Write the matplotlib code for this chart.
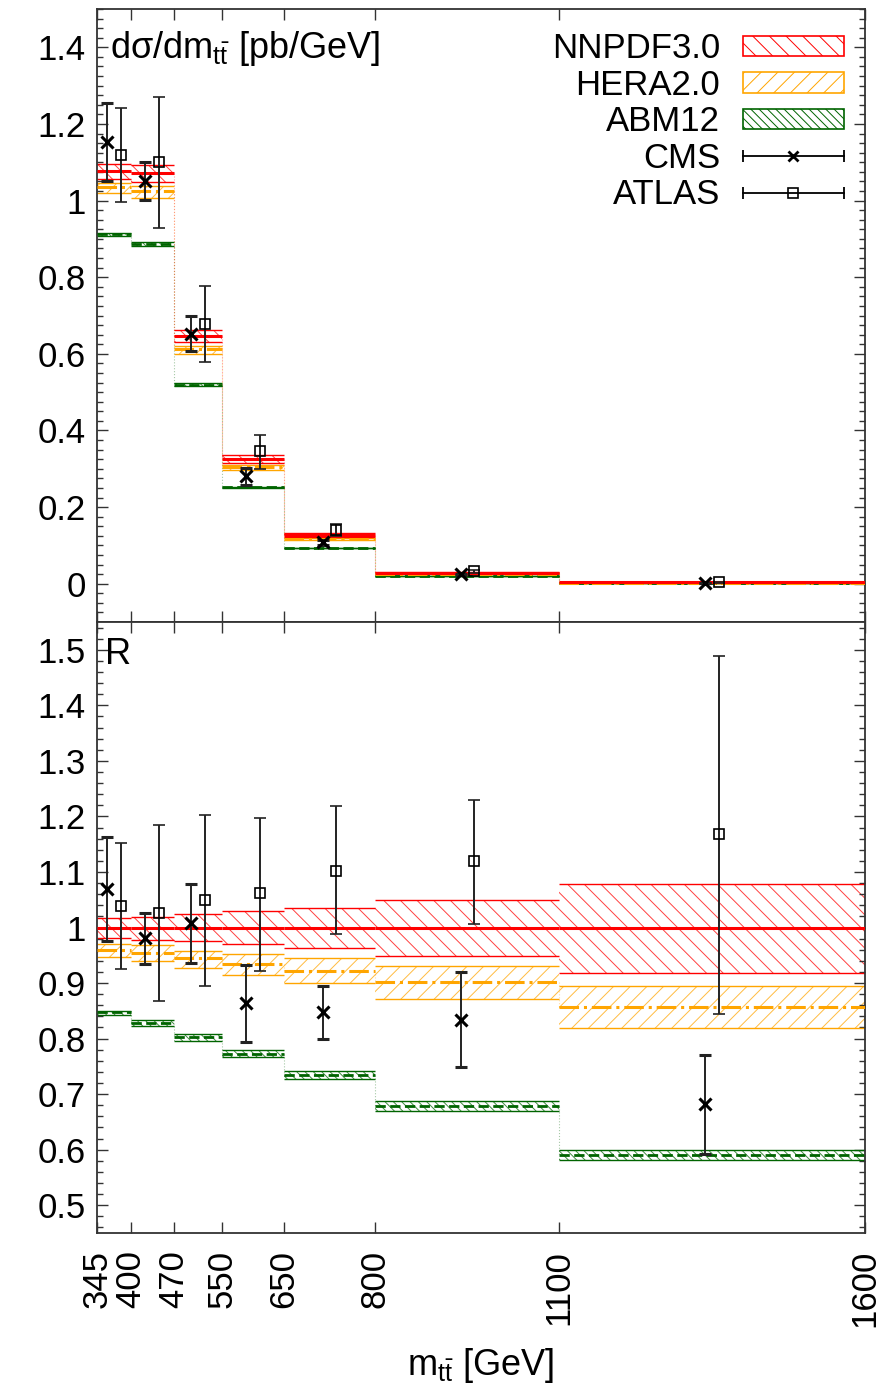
import numpy as np
import matplotlib.pyplot as plt
from matplotlib.lines import Line2D
from matplotlib.patches import Patch
from matplotlib.legend_handler import HandlerBase
from matplotlib.ticker import MultipleLocator, FuncFormatter

plt.rcParams['font.family'] = ['Liberation Sans', 'DejaVu Sans']
plt.rcParams['mathtext.fontset'] = 'custom'
plt.rcParams['mathtext.rm'] = 'Liberation Sans'
plt.rcParams['mathtext.it'] = 'Liberation Sans:italic'
plt.rcParams['hatch.linewidth'] = 0.7

# m_tt bin edges [GeV]
edges = [345, 400, 470, 550, 650, 800, 1100, 1600]
edge_labels = ['345', '400', '470', '550', '650', '800', '1100', '1600']

# NNPDF3.0 central prediction, dsigma/dm_tt [pb/GeV]
nnpdf_abs = [1.078, 1.072, 0.647, 0.325, 0.127, 0.029, 0.0035]

# ratios to the NNPDF3.0 central value
nnpdf_c = [1.0, 1.0, 1.0, 1.0, 1.0, 1.0, 1.0]
nnpdf_lo = [0.981, 0.977, 0.976, 0.970, 0.964, 0.948, 0.918]
nnpdf_hi = [1.017, 1.019, 1.024, 1.030, 1.036, 1.049, 1.078]

hera_c = [0.960, 0.955, 0.945, 0.934, 0.921, 0.901, 0.857]
hera_lo = [0.947, 0.940, 0.928, 0.915, 0.900, 0.872, 0.819]
hera_hi = [0.971, 0.968, 0.958, 0.952, 0.945, 0.930, 0.894]

abm_c = [0.847, 0.828, 0.802, 0.773, 0.734, 0.679, 0.590]
abm_lo = [0.843, 0.823, 0.796, 0.766, 0.727, 0.670, 0.581]
abm_hi = [0.850, 0.833, 0.808, 0.780, 0.741, 0.687, 0.599]

cms_r = [1.069, 0.981, 1.009, 0.864, 0.848, 0.834, 0.682]
cms_up = [1.163, 1.026, 1.079, 0.933, 0.895, 0.920, 0.771]
cms_dn = [0.976, 0.935, 0.937, 0.794, 0.799, 0.748, 0.592]

atlas_r = [1.039, 1.026, 1.049, 1.062, 1.102, 1.119, 1.168]
atlas_up = [1.152, 1.185, 1.203, 1.197, 1.218, 1.230, 1.489]
atlas_dn = [0.925, 0.867, 0.895, 0.922, 0.988, 1.006, 0.844]

# points are shifted left/right of the bin centre so they don't overlap
shift = 11.0

RED = '#ff0000'
ORANGE = '#ffa500'
GREEN = '#006400'
FS = 25


class HandlerHBar(HandlerBase):
    """gnuplot-like key entry: horizontal bar with end caps and a point in the middle"""

    def __init__(self, marker, ms, mew, mfc, **kw):
        super().__init__(**kw)
        self.marker, self.ms, self.mew, self.mfc = marker, ms, mew, mfc

    def create_artists(self, legend, orig_handle, xdescent, ydescent,
                       width, height, fontsize, trans):
        x0, x1 = -xdescent, -xdescent + width
        y = (height - ydescent) / 2.0
        bar = Line2D([x0, x1], [y, y], color='k', lw=1.3)
        caps = Line2D([x0, x1], [y, y], ls='none', marker='|', ms=9,
                      mew=1.3, color='k')
        pt = Line2D([(x0 + x1) / 2], [y], ls='none', marker=self.marker,
                    ms=self.ms, mew=self.mew, mfc=self.mfc, color='k')
        for a in (bar, caps, pt):
            a.set_transform(trans)
        return [bar, caps, pt]


def draw_set(ax, c, lo, hi, scale, color, hatch, cls, clw):
    c = np.asarray(c) * scale
    lo = np.asarray(lo) * scale
    hi = np.asarray(hi) * scale
    ax.fill_between(edges, np.append(lo, lo[-1]), np.append(hi, hi[-1]),
                    step='post', facecolor='none', edgecolor=color,
                    hatch=hatch, linewidth=0, alpha=0.75, zorder=1)
    ax.hlines(lo, edges[:-1], edges[1:], color=color, lw=1.0, zorder=2)
    ax.hlines(hi, edges[:-1], edges[1:], color=color, lw=1.0, zorder=2)
    ax.hlines(c, edges[:-1], edges[1:], color=color, lw=clw,
              linestyles=cls, zorder=3)
    # faint dotted connectors between neighbouring bins
    for i in range(1, len(c)):
        ax.vlines(edges[i], c[i - 1], c[i], color=color, lw=0.8,
                  linestyles=':', alpha=0.35, zorder=1)


def draw_data(ax, scale):
    mid = (np.array(edges[:-1]) + np.array(edges[1:])) / 2.0
    s = np.asarray(scale)
    for xx, r, up, dn, mk, ms, mew, mfc in [
            (mid - shift, cms_r, cms_up, cms_dn, 'x', 8, 2.2, 'k'),
            (mid + shift, atlas_r, atlas_up, atlas_dn, 's', 7, 1.2, 'none')]:
        y = np.asarray(r) * s
        yerr = [y - np.asarray(dn) * s, np.asarray(up) * s - y]
        ax.errorbar(xx, y, yerr=yerr, fmt=mk, ms=ms, mew=mew, mfc=mfc,
                    color='k', ecolor='#222222', elinewidth=1.4,
                    capsize=4.5, capthick=1.4, zorder=5)


fig = plt.figure(figsize=(8.95, 13.86), dpi=100)
ax1 = fig.add_axes([0.1084, 0.5512, 0.8581, 0.4423])
ax2 = fig.add_axes([0.1084, 0.1104, 0.8581, 0.4408])

ones = np.ones(len(nnpdf_abs))
for ax, scale in [(ax1, np.asarray(nnpdf_abs)), (ax2, ones)]:
    draw_set(ax, abm_c, abm_lo, abm_hi, scale, GREEN, '\\\\\\\\', '--', 2.0)
    draw_set(ax, hera_c, hera_lo, hera_hi, scale, ORANGE, '//', '-.', 2.2)
    draw_set(ax, nnpdf_c, nnpdf_lo, nnpdf_hi, scale, RED, '\\\\', '-', 2.2)
    draw_data(ax, scale)

fmt = FuncFormatter(lambda v, p: '%g' % round(v, 3))

for ax in (ax1, ax2):
    ax.set_xlim(345, 1600)
    ax.set_xticks(edges)
    ax.tick_params(which='both', direction='in', top=True, right=True,
                   labelsize=FS, width=1.0, color='#333333')
    ax.tick_params(which='major', length=8)
    ax.tick_params(which='minor', length=4)
    ax.tick_params(axis='y', pad=8)
    ax.yaxis.set_major_formatter(fmt)
    for sp in ax.spines.values():
        sp.set_linewidth(1.3)
        sp.set_color('#333333')

ax1.set_ylim(-0.1, 1.5)
ax1.yaxis.set_major_locator(MultipleLocator(0.2))
ax1.yaxis.set_minor_locator(MultipleLocator(0.025))
ax1.tick_params(axis='x', labelbottom=False)

ax2.set_ylim(0.45, 1.55)
ax2.yaxis.set_major_locator(MultipleLocator(0.1))
ax2.yaxis.set_minor_locator(MultipleLocator(0.02))
ax2.set_xticklabels(edge_labels, rotation=90, va='top', ha='center')
ax2.tick_params(axis='x', pad=12)
ax2.set_xlabel(r'm$_{\mathrm{t\bar{t}}}$ [GeV]', fontsize=26, labelpad=14)

ax1.text(0.017, 0.967, r'dσ/dm$_{\mathrm{t\bar{t}}}$ [pb/GeV]',
         transform=ax1.transAxes, fontsize=26, va='top', ha='left')
ax2.text(0.010, 0.975, 'R', transform=ax2.transAxes, fontsize=26,
         va='top', ha='left')

cms_h = Line2D([], [])
atlas_h = Line2D([], [])
handles = [
    Patch(facecolor='white', edgecolor=RED, hatch='\\\\', lw=1.2),
    Patch(facecolor='white', edgecolor=ORANGE, hatch='//', lw=1.2),
    Patch(facecolor='white', edgecolor=GREEN, hatch='\\\\\\\\', lw=1.2),
    cms_h, atlas_h,
]
labels = ['NNPDF3.0', 'HERA2.0', 'ABM12', 'CMS', 'ATLAS']
ax1.legend(handles, labels, loc='upper right', bbox_to_anchor=(0.972, 0.962),
           frameon=False, markerfirst=False, fontsize=FS, handlelength=2.9,
           handleheight=0.55, handletextpad=0.65, labelspacing=0.1,
           borderpad=0, borderaxespad=0,
           handler_map={cms_h: HandlerHBar('x', 7, 2.0, 'k'),
                        atlas_h: HandlerHBar('s', 6.5, 1.2, 'none')})

fig.savefig('out.png', dpi=100)
